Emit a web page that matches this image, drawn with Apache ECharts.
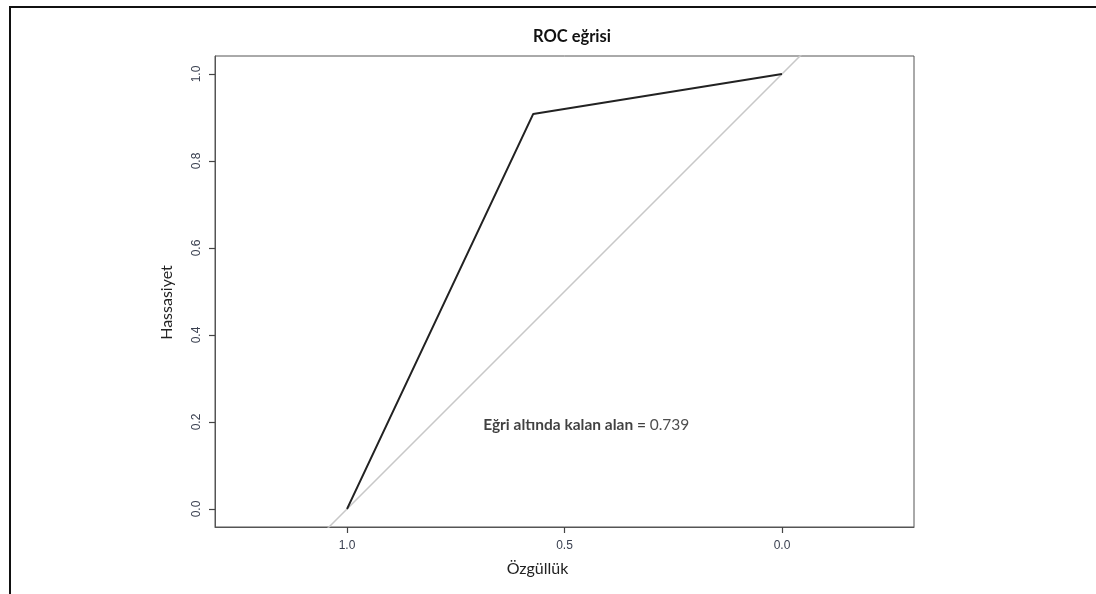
<!DOCTYPE html>
<html><head><meta charset="utf-8">
<script src="https://cdn.jsdelivr.net/npm/echarts@6/dist/echarts.min.js"></script>
<style>html,body{margin:0;padding:0;background:#fff}#frame{position:absolute;left:9px;top:6px;right:-4px;bottom:-4px;border-left:2px solid #111;border-top:2px solid #111}#c{width:1096px;height:594px}</style>
</head><body>
<div id="c"></div>
<div id="frame"></div>
<script>
// ROC data (specificity, sensitivity)
const specificity = [1.0, 0.572, 0.0];
const sensitivity = [0.0, 0.908, 1.0];
const diagSpec = [1.5, -0.5];
const diagSens = [-0.5, 1.5];
const xTicks = [0, 0.5, 1.0];
const yTicks = [0, 0.2, 0.4, 0.6, 0.8, 1.0];
const aucValue = '0.739';
const aucLabel = 'Eğri altında kalan alan = ';
const annotPos = [0.45, 0.193];

const chart = echarts.init(document.getElementById('c'));
const fmt = v => v.toFixed(1);
chart.setOption({
  animation: false,
  title: {text: 'ROC eğrisi', left: 567, top: 23, textAlign: 'center',
    textStyle: {fontFamily: 'Lato', fontWeight: 'bold', fontSize: 16.5, color: '#111'}},
  grid: {left: 215, top: 56, right: 182, bottom: 67, show: true, borderColor: '#555', borderWidth: 1, backgroundColor: 'transparent'},
  xAxis: {type: 'value', inverse: true, min: -0.3035, max: 1.3035,
    axisLine: {show: true, onZero: false, lineStyle: {color: '#555', width: 1}}, splitLine: {show: false},
    axisTick: {show: true, length: 6, lineStyle: {color: '#444', width: 1.2}, customValues: xTicks},
    axisLabel: {customValues: xTicks, formatter: fmt, fontFamily: 'Liberation Sans', fontSize: 12, color: '#3a4050', margin: 13},
    name: 'Özgüllük', nameLocation: 'middle', nameGap: 34,
    nameTextStyle: {fontFamily: 'Lato', fontSize: 16, color: '#222', padding: [0, 54, 0, 0]}},
  yAxis: {type: 'value', min: -0.0414, max: 1.0414,
    axisLine: {show: true, onZero: false, lineStyle: {color: '#555', width: 1}}, splitLine: {show: false},
    axisTick: {show: true, length: 6, lineStyle: {color: '#444', width: 1.2}, customValues: yTicks},
    axisLabel: {customValues: yTicks, formatter: fmt, rotate: 90, fontFamily: 'Liberation Sans', fontSize: 12, color: '#3a4050', margin: 12},
    name: 'Hassasiyet', nameLocation: 'middle', nameGap: 40, nameRotate: 90,
    nameTextStyle: {fontFamily: 'Lato', fontSize: 16, color: '#222', padding: [0, 22, 0, 0]}},
  series: [
    {type: 'line', data: diagSpec.map((x, i) => [x, diagSens[i]]), symbol: 'none', clip: true,
     lineStyle: {color: '#c8c8c8', width: 1.5}, z: 2},
    {type: 'line', data: specificity.map((x, i) => [x, sensitivity[i]]), symbol: 'none', clip: true,
     lineStyle: {color: '#222', width: 1.9}, z: 3},
    {type: 'scatter', data: [annotPos], symbolSize: 0, silent: true,
     label: {show: true, position: 'inside', formatter: '{b|' + aucLabel + '}{n|' + aucValue + '}',
       rich: {b: {fontFamily: 'Lato', fontWeight: 'bold', fontSize: 15.5, color: '#111'},
              n: {fontFamily: 'Lato', fontSize: 15.5, color: '#222'}}}}
  ]
});
</script>
</body></html>
